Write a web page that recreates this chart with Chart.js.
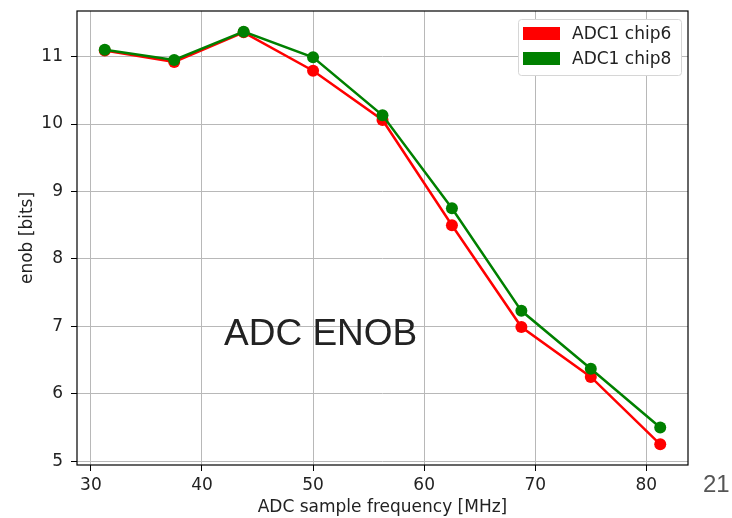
<!DOCTYPE html>
<html>
<head>
<meta charset="utf-8">
<script src="https://cdn.jsdelivr.net/npm/chart.js@4"></script>
<style>
	html, body { margin: 0; padding: 0; background: #fff; }
	#wrap { position: relative; width: 732px; height: 518px; }
	#myChart { position: absolute; left: 0; top: 0; }
	.note { position: absolute; font-family: 'Liberation Sans', Arial, sans-serif; line-height: 1; white-space: nowrap; }
	#title { left: 224px; top: 314px; font-size: 37px; color: #222; }
	#page { left: 703px; top: 472px; font-size: 24px; color: #555; }
</style>
</head>
<body>
<div id="wrap">
	<canvas id="myChart" width="732" height="518"></canvas>
	<div id="title" class="note">ADC ENOB</div>
	<div id="page" class="note">21</div>
</div>
<script>
const freqs = [31.25, 37.5, 43.75, 50, 56.25, 62.5, 68.75, 75, 81.25];
const chip6 = [11.09, 10.92, 11.36, 10.79, 10.06, 8.50, 6.99, 6.25, 5.25];
const chip8 = [11.10, 10.95, 11.37, 10.99, 10.13, 8.75, 7.23, 6.37, 5.50];
const xTicks = [30, 40, 50, 60, 70, 80];
const yTicks = [5, 6, 7, 8, 9, 10, 11];

Chart.defaults.font.family = "'DejaVu Sans', sans-serif";
Chart.defaults.font.size = 17;
Chart.defaults.color = '#222';

const toPoints = ys => freqs.map((x, i) => ({ x: x, y: ys[i] }));

// matplotlib-like frame around the axes
const framePlugin = {
	id: 'frame',
	afterDatasetsDraw: chart => {
		const { ctx, chartArea: a } = chart;
		ctx.save();
		ctx.strokeStyle = '#000';
		ctx.lineWidth = 1.2;
		ctx.strokeRect(a.left, a.top, a.right - a.left, a.bottom - a.top);
		ctx.restore();
	},
};

// legend box in the upper right corner
const legendPlugin = {
	id: 'boxLegend',
	afterDraw: chart => {
		const ctx = chart.ctx;
		const x = 518.5, y = 19.5, w = 163, h = 56;
		ctx.save();
		ctx.beginPath();
		ctx.roundRect(x, y, w, h, 3);
		ctx.fillStyle = '#fff';
		ctx.fill();
		ctx.strokeStyle = '#d6d6d6';
		ctx.lineWidth = 1;
		ctx.stroke();
		ctx.font = "17px 'DejaVu Sans', sans-serif";
		ctx.textBaseline = 'middle';
		chart.data.datasets.forEach((ds, i) => {
			const cy = 33.5 + i * 25;
			ctx.fillStyle = ds.borderColor;
			ctx.fillRect(523, cy - 6.5, 37, 13);
			ctx.fillStyle = '#222';
			ctx.fillText(ds.label, 572, cy + 1);
		});
		ctx.restore();
	},
};

const ctx = document.getElementById('myChart');
const chart = new Chart(ctx, {
	type: 'line',
	data: {
		datasets: [
			{
				label: 'ADC1 chip6',
				data: toPoints(chip6),
				borderColor: '#ff0000',
				backgroundColor: '#ff0000',
				borderWidth: 2.5,
				pointRadius: 6,
				pointBorderWidth: 0,
				order: 2,
			},
			{
				label: 'ADC1 chip8',
				data: toPoints(chip8),
				borderColor: '#008000',
				backgroundColor: '#008000',
				borderWidth: 2.5,
				pointRadius: 6,
				pointBorderWidth: 0,
				order: 1,
			},
		],
	},
	options: {
		responsive: false,
		animation: false,
		layout: { padding: { top: 11, right: 44, left: 0, bottom: 0 } },
		plugins: {
			legend: { display: false },
			tooltip: { enabled: false },
		},
		elements: { line: { tension: 0 } },
		scales: {
			x: {
				type: 'linear',
				min: 28.75,
				max: 83.75,
				afterBuildTicks: s => { s.ticks = xTicks.map(v => ({ value: v })); },
				afterFit: s => { s.height = 53; s.paddingLeft = 0; s.paddingRight = 0; },
				ticks: { padding: 4, maxRotation: 0, color: '#222' },
				grid: { color: '#b8b8b8', lineWidth: 1, tickColor: '#000', tickLength: 6 },
				border: { display: false },
				title: {
					display: true,
					text: 'ADC sample frequency [MHz]',
					color: '#222',
					padding: { top: 0, bottom: 0 },
				},
			},
			y: {
				min: 4.944,
				max: 11.676,
				afterBuildTicks: s => { s.ticks = yTicks.map(v => ({ value: v })); },
				afterFit: s => { s.width = 77; s.paddingTop = 0; s.paddingBottom = 0; },
				ticks: { padding: 8, color: '#222' },
				grid: { color: '#b8b8b8', lineWidth: 1, tickColor: '#000', tickLength: 6 },
				border: { display: false },
				title: {
					display: true,
					text: 'enob [bits]',
					color: '#222',
					padding: { top: 17, bottom: 0 },
				},
			},
		},
	},
	plugins: [framePlugin, legendPlugin],
});
</script>
</body>
</html>
